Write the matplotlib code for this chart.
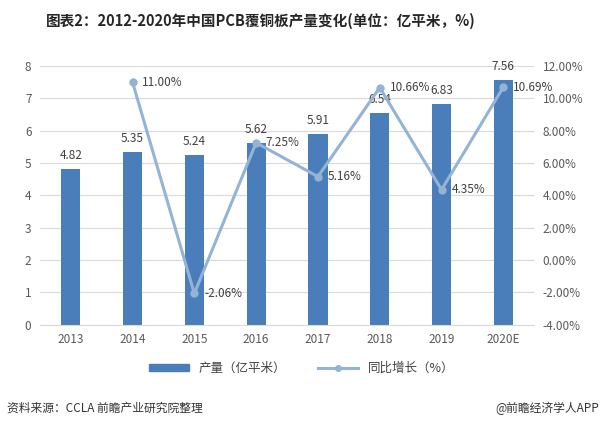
import matplotlib
matplotlib.use("Agg")
import matplotlib.pyplot as plt
import numpy as np

plt.rcParams['font.family'] = ['Noto Sans CJK SC', 'DejaVu Sans']

years = ["2013", "2014", "2015", "2016", "2017", "2018", "2019", "2020E"]
output = [4.82, 5.35, 5.24, 5.62, 5.91, 6.54, 6.83, 7.56]
growth = [np.nan, 11.00, -2.06, 7.25, 5.16, 10.66, 4.35, 10.69]

BAR_COLOR = "#4a7ebb"
LINE_COLOR = "#93b3d7"
TICK_COLOR = "#595959"
LABEL_COLOR = "#404040"

fig = plt.figure(figsize=(6.03, 4.28), dpi=100)
ax = fig.add_axes([0.066, 0.241, 0.82, 0.605])
x = np.arange(len(years))

ax.bar(x, output, width=0.31, color=BAR_COLOR, zorder=2)
for xi, v in zip(x, output):
    ax.annotate(f"{v:.2f}", (xi, v), xytext=(0, 5), textcoords="offset points",
                ha="center", va="bottom", fontsize=8.5, color=LABEL_COLOR)

ax.set_ylim(0, 8)
ax.set_yticks(range(0, 9))
ax.set_xlim(-0.5, len(years) - 0.5)
ax.set_xticks(x)
ax.set_xticklabels(years)
ax.grid(axis="y", color="#d9d9d9", linewidth=0.8, zorder=0)
ax.set_axisbelow(True)
for s in ["top", "right", "left"]:
    ax.spines[s].set_visible(False)
ax.spines["bottom"].set_color("#d9d9d9")
ax.tick_params(axis="both", length=0, labelsize=8.5, colors=TICK_COLOR, pad=6)

ax2 = ax.twinx()
ax2.plot(x, growth, color=LINE_COLOR, linewidth=2.2, marker="o", markersize=5,
         zorder=3)
for xi, v in zip(x, growth):
    if np.isnan(v):
        continue
    ax2.annotate(f"{v:.2f}%", (xi, v), xytext=(7, 0), textcoords="offset points",
                 ha="left", va="center", fontsize=8.5, color=LABEL_COLOR)
ax2.set_ylim(-4, 12)
ax2.set_yticks(range(-4, 13, 2))
ax2.set_yticklabels([f"{t:.2f}%" for t in range(-4, 13, 2)])
for s in ["top", "right", "left", "bottom"]:
    ax2.spines[s].set_visible(False)
ax2.tick_params(axis="y", length=0, labelsize=8.5, colors=TICK_COLOR, pad=6)

# legend
h1 = plt.Rectangle((0, 0), 1, 1, color=BAR_COLOR)
h2, = ax2.plot([], [], color=LINE_COLOR, linewidth=2.2, marker="o", markersize=4)
fig.legend([h1, h2], ["产量（亿平米）", "同比增长（%）"], loc="center",
           bbox_to_anchor=(0.5, 0.14), ncol=2, frameon=False, fontsize=9,
           handlelength=3.2, handleheight=0.5, columnspacing=2.5,
           labelcolor="#404040")

fig.text(0.433, 0.952, "图表2：2012-2020年中国PCB覆铜板产量变化(单位：亿平米，%)",
         ha="center", va="center", fontsize=10.5, fontweight="bold", color="#262626")
fig.text(0.012, 0.046, "资料来源：CCLA 前瞻产业研究院整理", ha="left", va="center",
         fontsize=8.5, color="#333333")
fig.text(0.993, 0.046, "@前瞻经济学人APP", ha="right", va="center",
         fontsize=8.5, color="#333333")

fig.savefig("out.png", dpi=100, facecolor="white")
